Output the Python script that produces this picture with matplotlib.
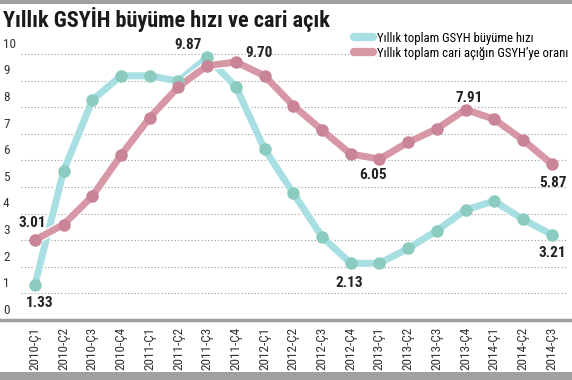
import matplotlib.pyplot as plt
import matplotlib.patheffects as pe
from matplotlib.transforms import blended_transform_factory
from matplotlib.lines import Line2D
from matplotlib.patches import Rectangle

quarters = ['2010-Ç1', '2010-Ç2', '2010-Ç3', '2010-Ç4',
            '2011-Ç1', '2011-Ç2', '2011-Ç3', '2011-Ç4',
            '2012-Ç1', '2012-Ç2', '2012-Ç3', '2012-Ç4',
            '2013-Ç1', '2013-Ç2', '2013-Ç3', '2013-Ç4',
            '2014-Ç1', '2014-Ç2', '2014-Ç3']
growth = [1.33, 5.61, 8.27, 9.18, 9.18, 8.98, 9.87, 8.77, 6.42, 4.77,
          3.13, 2.13, 2.13, 2.69, 3.36, 4.14, 4.47, 3.79, 3.21]
deficit = [3.01, 3.59, 4.66, 6.20, 7.61, 8.77, 9.56, 9.70, 9.18, 8.06,
           7.14, 6.24, 6.05, 6.68, 7.19, 7.91, 7.55, 6.77, 5.87]
yticks = list(range(0, 11))

# labelled points: index, offset in pixels (dx, dy)
growth_notes = [(0, 5, -18), (6, -19, 12), (11, -1, -20), (18, 1, -18)]
deficit_notes = [(0, -3, 17), (7, 23, 9), (12, -6, -16), (15, 4, 12), (18, 1, -19)]

plt.rcParams['font.family'] = ['Roboto Condensed', 'DejaVu Sans']
plt.rcParams['font.stretch'] = 'condensed'

teal_line, teal_dot = '#a8dfe2', '#8ccbbf'
pink_line, pink_dot = '#d897a5', '#c98597'
text_col = '#222222'

fig = plt.figure(figsize=(5.72, 3.8), dpi=100)
ax = fig.add_axes([20.6 / 572, 1 - 320 / 380, (566 - 20.6) / 572, (320 - 40.7) / 380])

x = list(range(len(quarters)))
outline = [pe.Stroke(linewidth=7, foreground='white'), pe.Normal()]
ax.plot(x, growth, color=teal_line, lw=5, zorder=3, path_effects=outline,
        solid_joinstyle='round')
ax.plot(x, growth, 'o', color=teal_dot, ms=8, zorder=4)
ax.plot(x, deficit, color=pink_line, lw=5, zorder=3, path_effects=outline,
        solid_joinstyle='round')
ax.plot(x, deficit, 'o', color=pink_dot, ms=8, zorder=4)

for series, notes in ((growth, growth_notes), (deficit, deficit_notes)):
    for i, dx, dy in notes:
        ax.annotate(f'{series[i]:.2f}', (i, series[i]), xytext=(dx, dy),
                    textcoords='offset pixels', ha='center', va='center',
                    fontsize=11, fontweight='bold', color=text_col, zorder=5)

ax.set_xlim(-0.5, len(quarters) - 0.5)
ax.set_ylim(0, 10.5)
ax.set_xticks(x)
ax.set_xticklabels(quarters, rotation=90, fontsize=9.5, color='#333333')
ax.tick_params(axis='x', length=0, pad=5)
ax.set_yticks(yticks[1:])
ax.set_yticklabels([])
ax.tick_params(axis='y', length=0)
ax.grid(axis='y', linestyle=(0, (1, 2)), color='#999999', lw=0.8)
for s in ax.spines.values():
    s.set_visible(False)

tr = blended_transform_factory(fig.transFigure, ax.transData)
for v in yticks:
    ax.text(3 / 572, v + 0.12, str(v), transform=tr, fontsize=9.5,
            color='#333333', ha='left', va='bottom')

# axis line, top and bottom bands
fig.add_artist(Line2D([0, 1], [1 - 320 / 380] * 2, color='#a0a0a0', lw=2.5))
fig.add_artist(Rectangle((0, 0), 1, 8 / 380, color='#a0a0a0', lw=0))
fig.add_artist(Rectangle((0, 1 - 4 / 380), 1, 4 / 380, color='#a0a0a0', lw=0))

fig.text(3 / 572, 1 - 19 / 380, 'Yıllık GSYİH büyüme hızı ve cari açık',
         fontsize=16, fontweight='heavy', color='#1a1a1a', va='center')

handles = [Line2D([0], [0], color=teal_line, lw=6, solid_capstyle='round'),
           Line2D([0], [0], color=pink_line, lw=6, solid_capstyle='round')]
fig.legend(handles, ['Yıllık toplam GSYH büyüme hızı',
                     'Yıllık toplam cari açığın GSYH\u2019ye oranı'],
           loc='upper left', bbox_to_anchor=(352 / 572, 1 - 30 / 380),
           frameon=True, facecolor='white', edgecolor='none', framealpha=1,
           fontsize=9.2, handlelength=1.5, handletextpad=0.3,
           labelspacing=0.15, borderpad=0.15, borderaxespad=0)

fig.savefig('out.png', dpi=100)
